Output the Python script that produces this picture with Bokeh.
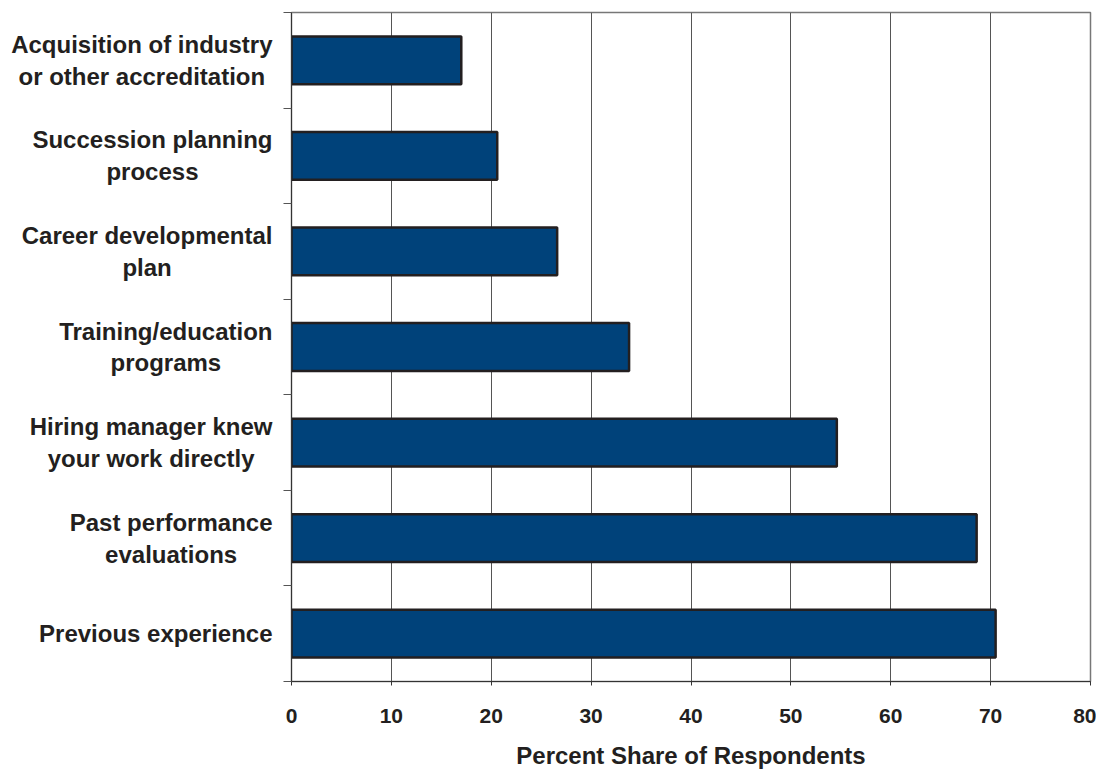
from bokeh.plotting import figure
from bokeh.models import Range1d, FixedTicker, ColumnDataSource
from bokeh.core.properties import value
from bokeh.embed import file_html
from bokeh.resources import INLINE

categories = [
    "Acquisition of industry\nor other accreditation",
    "Succession planning\nprocess",
    "Career developmental\nplan",
    "Training/education\nprograms",
    "Hiring manager knew\nyour work directly",
    "Past performance\nevaluations",
    "Previous experience",
]
values = [17.0, 20.6, 26.6, 33.8, 54.6, 68.6, 70.5]
x_ticks = [0, 10, 20, 30, 40, 50, 60, 70, 80]
x_title = "Percent Share of Respondents"

FONT = "Liberation Sans"
TEXT = "#231f20"

n = len(categories)
src = ColumnDataSource(dict(
    y=[i + 0.5 for i in range(n)],
    v=values,
    label=categories,
    zero=[0] * n,
))

p = figure(width=1096, height=771, output_backend="svg", toolbar_location=None,
           x_range=Range1d(0, 80), y_range=Range1d(n, 0),
           min_border_left=291, min_border_right=6, min_border_top=12, min_border_bottom=80)
p.background_fill_color = "white"
p.border_fill_color = "white"
p.outline_line_color = "#777777"
p.outline_line_width = 1.5

p.hbar(y="y", left="zero", right="v", height=0.5, source=src,
       fill_color="#00427a", line_color="#231f20", line_width=2.5)

p.text(x="zero", y="y", text="label", source=src, x_offset=-19,
       text_align="center", anchor="center_right", text_baseline="middle",
       text_font=value(FONT), text_font_style="bold", text_font_size="24px",
       text_color=TEXT, text_line_height=1.18, level="overlay")

# x axis
xa = p.xaxis[0]
xa.ticker = FixedTicker(ticks=x_ticks)
xa.minor_tick_line_color = None
xa.major_tick_out = 4
xa.major_tick_in = 0
xa.axis_line_color = "#333333"
xa.major_tick_line_color = "#333333"
xa.major_label_text_font = FONT
xa.major_label_text_font_style = "bold"
xa.major_label_text_font_size = "21px"
xa.major_label_text_color = TEXT
xa.major_label_standoff = 23
xa.axis_label = x_title
xa.axis_label_text_font = FONT
xa.axis_label_text_font_style = "bold"
xa.axis_label_text_font_size = "24px"
xa.axis_label_text_color = TEXT
xa.axis_label_standoff = 16

# y axis: ticks at category boundaries, no labels
ya = p.yaxis[0]
y_bounds = list(range(n + 1))
ya.ticker = FixedTicker(ticks=y_bounds)
ya.minor_tick_line_color = None
ya.major_tick_out = 8
ya.major_tick_in = 0
ya.axis_line_color = "#333333"
ya.major_tick_line_color = "#555555"
ya.major_label_overrides = {b: "" for b in y_bounds}
ya.major_label_standoff = 0

p.xgrid.ticker = FixedTicker(ticks=x_ticks[1:-1])
p.xgrid.grid_line_color = "#555555"
p.xgrid.grid_line_width = 1
p.ygrid.grid_line_color = None

open("out.html", "w").write(file_html(p, INLINE))
